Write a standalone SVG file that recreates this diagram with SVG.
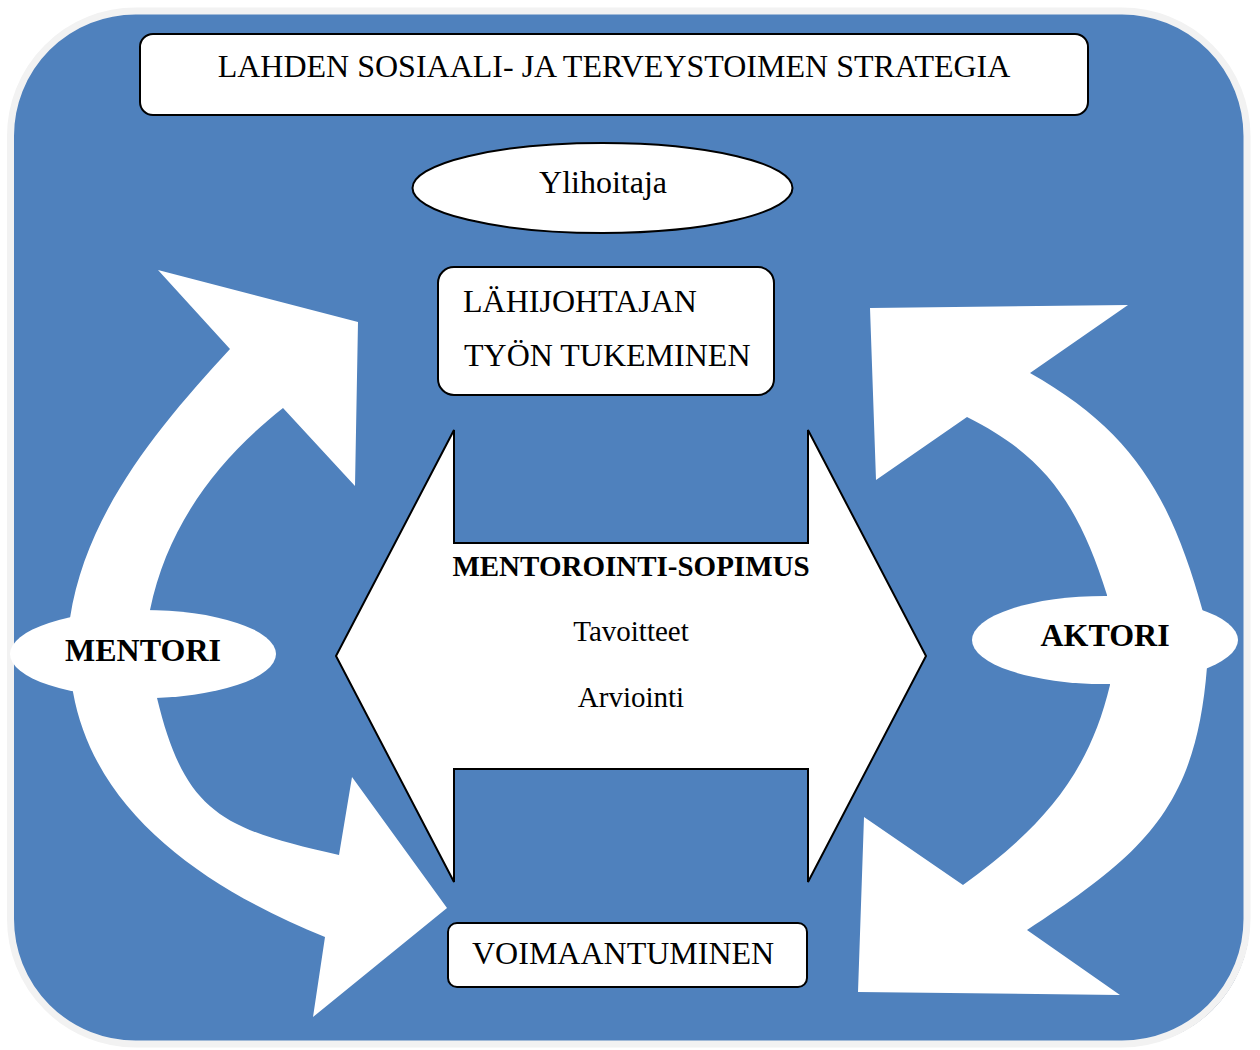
<svg xmlns="http://www.w3.org/2000/svg" width="1260" height="1050" viewBox="0 0 1260 1050">
  <style>
    .t { font-family: "Liberation Serif", "Times New Roman", serif; fill: #000; }
    .n { font-size: 32px; }
    .s { font-size: 29px; }
    .b { font-weight: bold; }
    .box { fill: #fff; stroke: #000; stroke-width: 2; }
    .flow { fill: #fff; stroke: none; }
  </style>

  <!-- panel background -->
  <g id="panel">
    <rect x="12.5" y="13" width="1237" height="1033" rx="125" ry="125" fill="#2a4a73"/>
    <rect x="10.5" y="11" width="1236.5" height="1033" rx="125" ry="125" fill="#4f81bd" stroke="#f2f2f2" stroke-width="7"/>
  </g>

  <!-- curved cycle arrows -->
  <g id="connectors">
    <path class="flow" d="M 68,640 L 70,618 C 86,513 159,426 230,349 L 158,270 L 358,322 L 355,486 L 283,408 C 216,461 167,527 150,610 L 151,640 Z"/>
    <path class="flow" d="M 72,670 L 73,692 C 95,815 209,890 325,937 L 313,1017 L 447,908 L 352,777 L 339,855 C 223,829 185,814 157,698 L 156,670 Z"/>
    <path class="flow" d="M 1205,640 L 1203,612 C 1171,497 1134,432 1030,373 L 1128,305 L 870,308 L 876,480 L 967,417 C 1048,457 1080,509 1107,595 L 1108,640 Z"/>
    <path class="flow" d="M 1108,650 L 1110,685 C 1088,777 1040,829 963,885 L 864,817 L 858,992 L 1120,995 L 1027,930 C 1145,853 1196,807 1207,667 L 1207,650 Z"/>
  </g>

  <g id="strategia">
    <rect class="box" x="140" y="34" width="948" height="81" rx="13" ry="13"/>
    <text class="t n" x="614" y="77" text-anchor="middle">LAHDEN SOSIAALI- JA TERVEYSTOIMEN STRATEGIA</text>
  </g>

  <g id="ylihoitaja">
    <ellipse class="box" cx="602.5" cy="188" rx="190" ry="45"/>
    <text class="t n" x="603" y="193" text-anchor="middle">Ylihoitaja</text>
  </g>

  <g id="lahijohtaja">
    <rect class="box" x="438" y="267" width="336" height="128" rx="16" ry="16"/>
    <text class="t n" x="463" y="312">LÄHIJOHTAJAN</text>
    <text class="t n" x="464" y="366">TYÖN TUKEMINEN</text>
  </g>

  <g id="sopimus">
    <path class="box" d="M 336,656 L 454,430 L 454,543 L 808,543 L 808,430 L 926,656 L 808,882 L 808,769 L 454,769 L 454,882 Z"/>
    <text class="t s b" x="631" y="576" text-anchor="middle">MENTOROINTI-SOPIMUS</text>
    <text class="t s" x="631" y="641" text-anchor="middle">Tavoitteet</text>
    <text class="t s" x="631" y="707" text-anchor="middle">Arviointi</text>
  </g>

  <g id="mentori">
    <ellipse cx="143" cy="654" rx="133" ry="44" fill="#fff"/>
    <text class="t n b" x="143" y="661" text-anchor="middle">MENTORI</text>
  </g>

  <g id="aktori">
    <ellipse cx="1105" cy="640" rx="133" ry="44" fill="#fff"/>
    <text class="t n b" x="1105" y="646" text-anchor="middle">AKTORI</text>
  </g>

  <g id="voimaantuminen">
    <rect class="box" x="448" y="923" width="359" height="64" rx="9" ry="9"/>
    <text class="t n" x="472" y="964">VOIMAANTUMINEN</text>
  </g>
</svg>
